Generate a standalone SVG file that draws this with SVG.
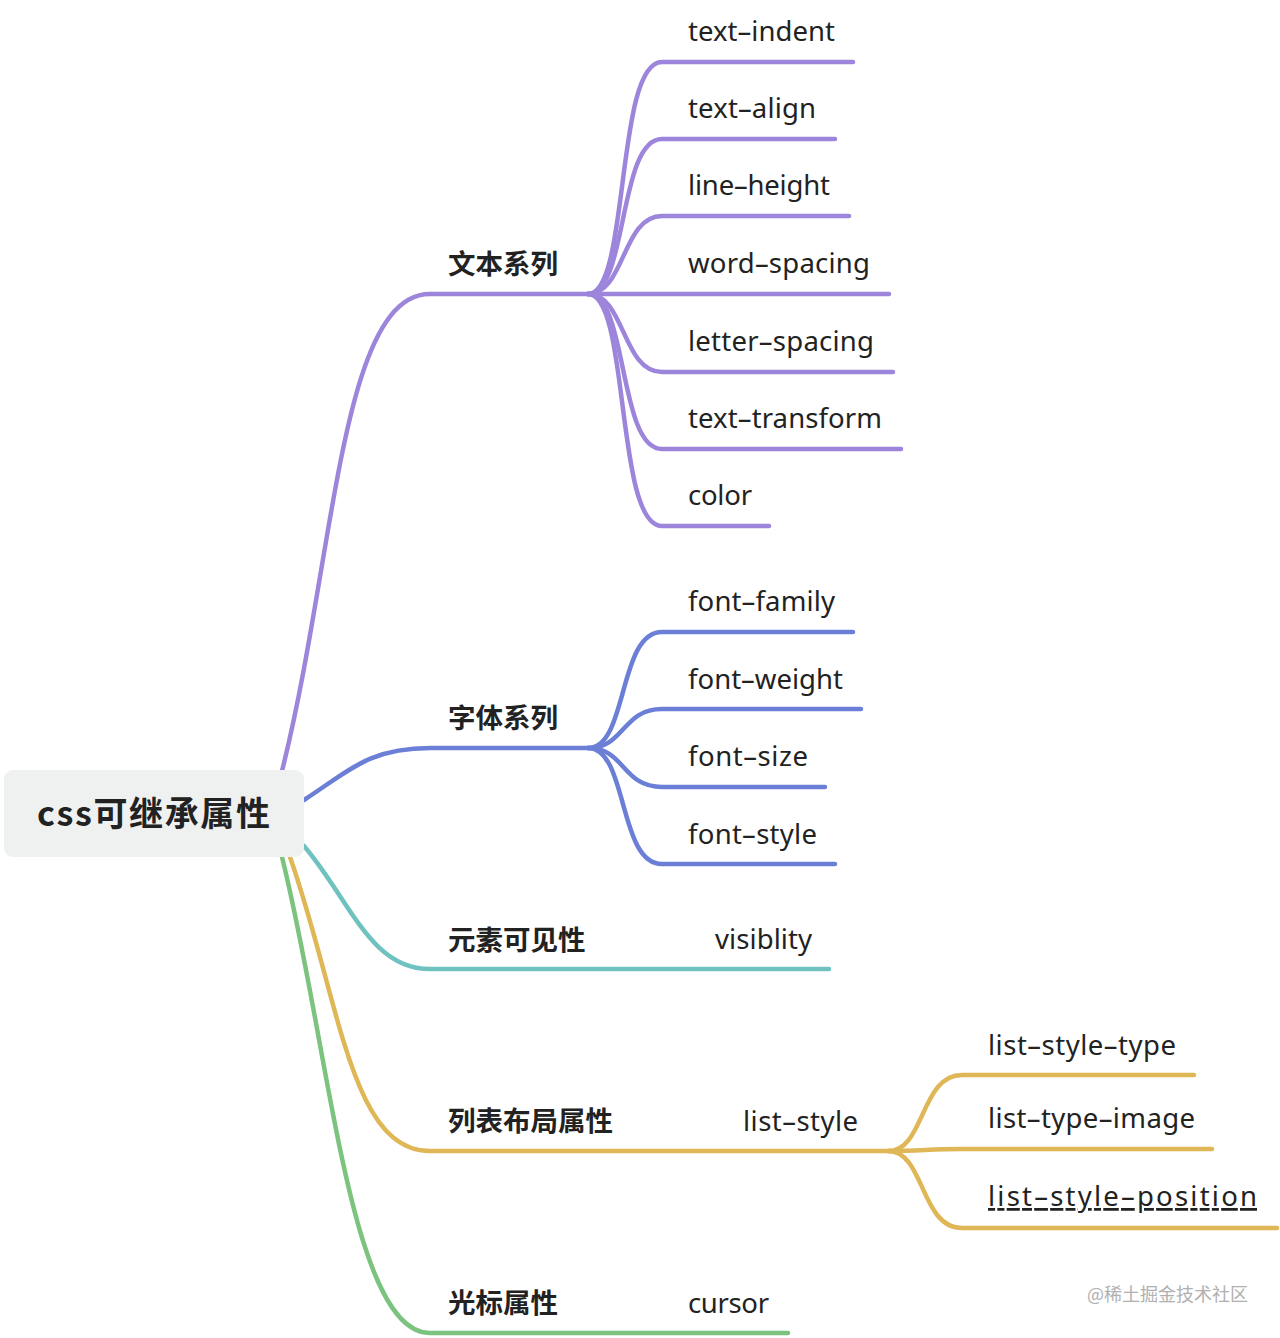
<svg xmlns="http://www.w3.org/2000/svg" width="1280" height="1338" viewBox="0 0 1280 1338">
<style>
.c{fill:none;stroke-width:4.5;stroke-linecap:round;stroke-linejoin:round}
.p{stroke:#9d85dc}.b{stroke:#6b7fd7}.t{stroke:#6fc2c0}.g{stroke:#dfb757}.gr{stroke:#7bc37f}
.lb{font-family:"Noto Sans","Liberation Sans","Noto Sans CJK SC",sans-serif;font-size:27.5px;fill:#222}
.cn{font-family:"Noto Sans CJK SC",sans-serif;font-size:27.5px;font-weight:bold;fill:#222}
.wm{font-family:"Noto Sans CJK SC",sans-serif;font-size:18px;fill:#b0b0b0}
</style>
<rect width="1280" height="1338" fill="#ffffff"/>
<g id="connectors">
<path class="c p" d="M282,771 C335,560 340,294 430,294 L588,294"/>
<path class="c p" d="M588,294 C630,294 615,62 662,62 L853,62"/>
<path class="c p" d="M588,294 C628,294 618,139 662,139 L835,139"/>
<path class="c p" d="M588,294 C625,294 622,216 662,216 L849,216"/>
<path class="c p" d="M588,294 L889,294"/>
<path class="c p" d="M588,294 C625,294 622,372 662,372 L893,372"/>
<path class="c p" d="M588,294 C628,294 618,449 662,449 L901,449"/>
<path class="c p" d="M588,294 C630,294 615,526 662,526 L769,526"/>
<path class="c b" d="M304,800 C350,770 370,748 430,748 L588,748"/>
<path class="c b" d="M588,748 C628,748 618,632 662,632 L853,632"/>
<path class="c b" d="M588,748 C625,748 622,709 662,709 L861,709"/>
<path class="c b" d="M588,748 C625,748 622,787 662,787 L825,787"/>
<path class="c b" d="M588,748 C628,748 618,864 662,864 L835,864"/>
<path class="c t" d="M304,846 C350,900 370,969 430,969 L829,969"/>
<path class="c g" d="M290,857 C340,1000 350,1151 430,1151 L888,1151"/>
<path class="c g" d="M888,1151 C925,1151 920,1075 962,1075 L1194,1075"/>
<path class="c g" d="M888,1151 C920,1151 930,1149 962,1149 L1212,1149"/>
<path class="c g" d="M888,1151 C925,1151 920,1228 962,1228 L1277,1228"/>
<path class="c gr" d="M282,857 C330,1050 350,1333 430,1333 L788,1333"/>
</g>
<g id="root">
<rect x="4" y="770" width="300" height="87" rx="9" fill="#eff1f1"/>
<text x="37" y="826" font-family="Noto Sans CJK SC,sans-serif" font-size="34" font-weight="bold" fill="#222" textLength="233">css可继承属性</text>
</g>
<g id="n-text"><text class="cn" x="448" y="274">文本系列</text></g>
<g id="n-text-indent"><text class="lb" x="688" y="41" textLength="147">text–indent</text></g>
<g id="n-text-align"><text class="lb" x="688" y="118" textLength="128">text–align</text></g>
<g id="n-line-height"><text class="lb" x="688" y="195" textLength="142">line–height</text></g>
<g id="n-word-spacing"><text class="lb" x="688" y="273" textLength="182">word–spacing</text></g>
<g id="n-letter-spacing"><text class="lb" x="688" y="351" textLength="186">letter–spacing</text></g>
<g id="n-text-transform"><text class="lb" x="688" y="428" textLength="194">text–transform</text></g>
<g id="n-color"><text class="lb" x="688" y="505" textLength="64">color</text></g>
<g id="n-font"><text class="cn" x="448" y="728">字体系列</text></g>
<g id="n-font-family"><text class="lb" x="688" y="611" textLength="147">font–family</text></g>
<g id="n-font-weight"><text class="lb" x="688" y="689" textLength="155">font–weight</text></g>
<g id="n-font-size"><text class="lb" x="688" y="766" textLength="120">font–size</text></g>
<g id="n-font-style"><text class="lb" x="688" y="844" textLength="129">font–style</text></g>
<g id="n-visible"><text class="cn" x="448" y="950">元素可见性</text></g>
<g id="n-visiblity"><text class="lb" x="715" y="949" textLength="97">visiblity</text></g>
<g id="n-list"><text class="cn" x="448" y="1131">列表布局属性</text></g>
<g id="n-list-style"><text class="lb" x="743" y="1131" textLength="115">list–style</text></g>
<g id="n-list-style-type"><text class="lb" x="988" y="1055" textLength="188">list–style–type</text></g>
<g id="n-list-type-image"><text class="lb" x="988" y="1128" textLength="207">list–type–image</text></g>
<g id="n-list-style-position"><text class="lb" x="988" y="1206" font-size="31" text-decoration="underline" textLength="269">list–style–position</text></g>
<g id="n-cursor-group"><text class="cn" x="448" y="1313">光标属性</text></g>
<g id="n-cursor"><text class="lb" x="688" y="1313" textLength="81">cursor</text></g>
<text class="wm" x="1087" y="1301">@稀土掘金技术社区</text>
</svg>
